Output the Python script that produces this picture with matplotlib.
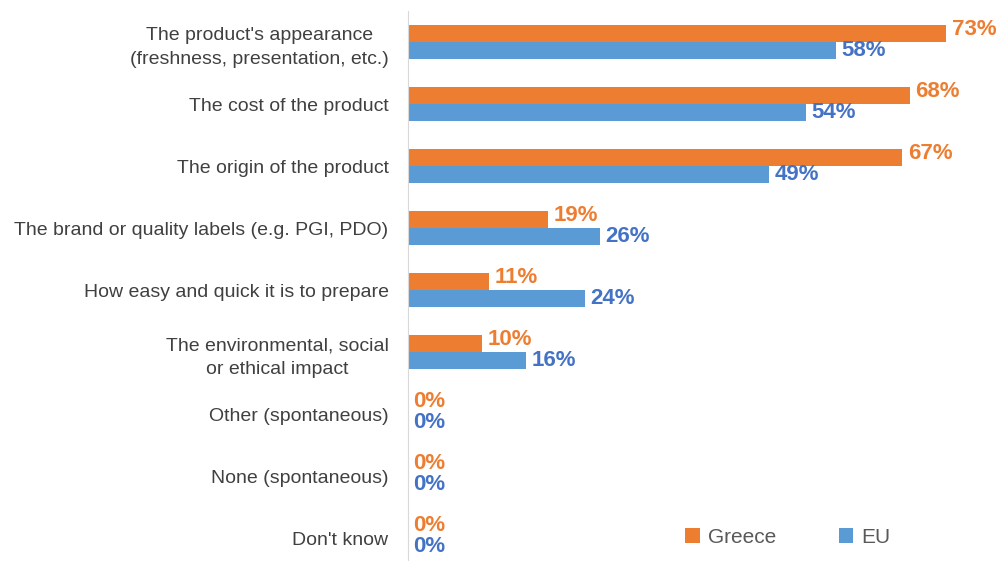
import numpy as np
import matplotlib.pyplot as plt

plt.rcParams['font.family'] = ['Liberation Sans', 'DejaVu Sans']

categories = [
    "The product's appearance\n(freshness, presentation, etc.)",
    "The cost of the product",
    "The origin of the product",
    "The brand or quality labels (e.g. PGI, PDO)",
    "How easy and quick it is to prepare",
    "The environmental, social\nor ethical impact",
    "Other (spontaneous)",
    "None (spontaneous)",
    "Don't know",
]
greece = [73, 68, 67, 19, 11, 10, 0, 0, 0]
eu = [58, 54, 49, 26, 24, 16, 0, 0, 0]

orange = '#ED7D31'
blue = '#5B9BD5'
orange_txt = '#ED7D31'
blue_txt = '#4472C4'

fig = plt.figure(figsize=(10, 5.61), dpi=100)
ax = fig.add_axes([0.408, -0.0143, 0.59, 0.9947])

y = np.arange(len(categories))
h = 0.28
ax.barh(y - h / 2, greece, height=h, color=orange, label='Greece')
ax.barh(y + h / 2, eu, height=h, color=blue, label='EU')

for i, (g, e) in enumerate(zip(greece, eu)):
    ax.annotate(f"{g}%", (g, i - h / 2), xytext=(4, 3), textcoords='offset points',
                va='center', ha='left', color=orange_txt, fontsize=16, fontweight='bold')
    ax.annotate(f"{e}%", (e, i + h / 2), xytext=(4, 0), textcoords='offset points',
                va='center', ha='left', color=blue_txt, fontsize=16, fontweight='bold')

ax.set_xlim(0, 80)
ax.set_ylim(len(categories) - 0.5, -0.5)
ax.set_yticks(y)
ax.set_yticklabels(categories, fontsize=14, color='#404040', multialignment='center')
for lbl in ax.get_yticklabels():
    lbl.set_linespacing(1.55)
ax.tick_params(axis='y', length=0, pad=14)
ax.set_xticks([])
for s in ['top', 'right', 'bottom']:
    ax.spines[s].set_visible(False)
ax.spines['left'].set_color('#D9D9D9')

fig.legend(loc='center', bbox_to_anchor=(0.788, 0.042), ncol=2, frameon=False,
           fontsize=15, labelcolor='#595959', handlelength=0.7, handleheight=0.7,
           handletextpad=0.4, columnspacing=3.0)

plt.savefig('out.png', dpi=100)
